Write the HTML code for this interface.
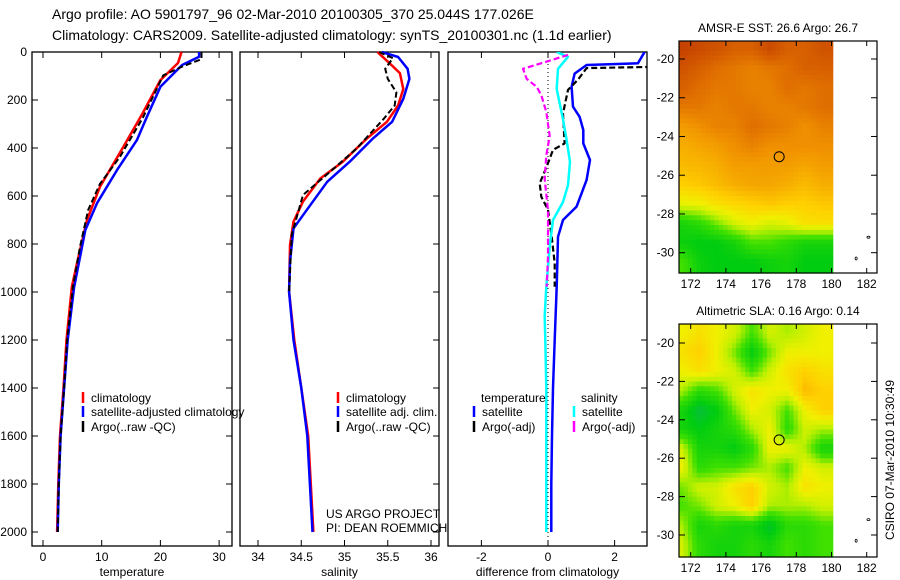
<!DOCTYPE html>
<html><head><meta charset="utf-8">
<style>
html,body{margin:0;padding:0;background:#fff;}
svg{display:block;font-family:"Liberation Sans",sans-serif;}
text{fill:#000;}
</style></head>
<body>
<svg id="c" width="900" height="580" viewBox="0 0 900 580" xmlns="http://www.w3.org/2000/svg">
<text x="52" y="19" font-size="14">Argo profile: AO 5901797_96 02-Mar-2010 20100305_370 25.044S 177.026E</text>
<text x="52" y="40" font-size="14">Climatology: CARS2009. Satellite-adjusted climatology: synTS_20100301.nc (1.1d earlier)</text>
<g id="g"></g>
</svg>
<script>
// ---------- data ----------
const depthTicks=[0,200,400,600,800,1000,1200,1400,1600,1800,2000];
const tempTicks=[0,10,20,30];
const salTicks=[34,34.5,35,35.5,36];
const diffTicks=[-2,0,2];
const latTicks=[-20,-22,-24,-26,-28,-30];
const lonTicks=[172,174,176,178,180,182];

const tClimD=[0,46,117,254,395,562,700,880,980,1200,1400,1600,1800,2000];
const tClimV=[23.6,23,20,17,13.7,9.7,7.5,5.8,4.9,4.0,3.5,2.9,2.6,2.4];
const tSatD=[0,20,54,145,270,367,492,630,742,980,1200,1400,1600,1800,2000];
const tSatV=[26.6,26.6,23.7,20,17.7,16,12.6,9.2,7.2,5.3,4.2,3.6,3.0,2.7,2.5];
const tArgD=[0,30,60,97,274,437,550,658,812,980,1200,1400,1600,1800,2000];
const tArgV=[27,27,23.8,20.5,17,13.1,9.7,7.7,6.3,5.1,4.1,3.6,3.0,2.7,2.5];

const sClimD=[0,40,88,154,223,291,360,457,527,623,707,804,1000,1200,1400,1600,1800,2000];
const sClimV=[35.38,35.5,35.64,35.68,35.62,35.49,35.26,34.98,34.72,34.52,34.41,34.37,34.36,34.42,34.5,34.58,34.61,34.64];
const sSatD=[0,21,70,112,195,291,360,457,541,680,735,874,1000,1200,1400,1600,1800,2000];
const sSatV=[35.43,35.62,35.73,35.75,35.68,35.55,35.33,35.06,34.8,34.52,34.41,34.37,34.36,34.41,34.5,34.57,34.6,34.63];
const sArgD=[0,26,70,112,168,223,280,402,500,596,762,1000];
const sArgV=[35.4,35.56,35.47,35.5,35.6,35.58,35.45,35.14,34.83,34.52,34.39,34.36];

const dTSatD=[0,47,54,90,145,228,270,325,381,450,533,644,700,770,978,1200,1400,1600,1800,2000];
const dTSatV=[2.9,2.7,1.16,0.8,0.71,0.75,0.95,1.06,1.06,1.26,1.16,0.86,0.45,0.3,0.26,0.2,0.15,0.12,0.1,0.1];
const dTArgD=[62,67,115,158,256,381,408,478,547,603,658,770,880,978];
const dTArgV=[3.1,1.16,0.9,0.6,0.45,0.5,0.15,-0.04,-0.25,-0.2,0,0.11,0.2,0.2];
const dSSatD=[0,20,70,154,280,367,457,555,625,700,810,978,1100,1200,1400,1600,1800,2000];
const dSSatV=[0.26,0.6,0.3,0.26,0.45,0.56,0.66,0.6,0.45,0.15,0.05,-0.05,-0.1,-0.08,-0.05,-0.05,-0.05,-0.05];
const dSArgD=[12,40,70,112,145,180,250,350,430,530,660,850,978];
const dSArgV=[0.6,-0.04,-0.75,-0.64,-0.34,-0.2,-0.05,0.05,-0.05,-0.1,0,0,-0.04];

const gridLons=[171.5,172.5,173.5,174.5,175.5,176.5,177.5,178.5,179.5];
const gridLats=[-19.5,-20.5,-21.5,-22.5,-23.5,-24.5,-25.5,-26.5,-27.5,-28.5,-29.5,-30.5];
const sstGrid=[
[.92,.9,.88,.85,.85,.9,.85,.85,.88],
[.88,.85,.82,.8,.78,.8,.82,.85,.85],
[.85,.82,.8,.8,.78,.78,.82,.8,.82],
[.8,.8,.78,.8,.8,.78,.78,.8,.82],
[.72,.75,.78,.78,.82,.8,.78,.75,.78],
[.68,.7,.72,.75,.78,.75,.75,.75,.75],
[.65,.66,.68,.72,.72,.72,.72,.7,.72],
[.6,.62,.65,.68,.7,.7,.68,.65,.68],
[.48,.5,.55,.58,.6,.62,.6,.6,.62],
[.2,.25,.35,.45,.5,.45,.48,.55,.55],
[.18,.15,.15,.2,.3,.3,.25,.2,.2],
[.3,.18,.15,.15,.15,.18,.2,.15,.15]];
const slaGrid=[
[.5,.55,.5,.45,.3,.45,.4,.45,.5],
[.55,.6,.5,.35,.15,.35,.5,.5,.5],
[.5,.55,.5,.45,.3,.45,.55,.6,.55],
[.4,.25,.3,.45,.55,.5,.5,.65,.6],
[.2,.08,.15,.35,.5,.45,.3,.5,.6],
[.2,.15,.2,.25,.4,.5,.25,.45,.4],
[.45,.2,.2,.15,.25,.5,.5,.4,.2],
[.5,.25,.3,.3,.35,.4,.3,.5,.45],
[.35,.45,.45,.55,.6,.45,.4,.55,.5],
[.3,.35,.45,.5,.6,.4,.4,.4,.45],
[.4,.2,.25,.2,.2,.1,.25,.25,.3],
[.45,.25,.2,.2,.25,.2,.3,.25,.3]];
const argoLon=177.026, argoLat=-25.044;

// ---------- helpers ----------
const NS="http://www.w3.org/2000/svg";
const G=document.getElementById('g');
function mk(tag,attrs,parent){const e=document.createElementNS(NS,tag);for(const k in attrs)e.setAttribute(k,attrs[k]);(parent||G).appendChild(e);return e;}
const yD=d=>52+d*0.24;
const PB=546;

function panel(x0,x1,xs,ticks,label,name,leftLabels){
  const r=mk('rect',{x:x0,y:52,width:x1-x0,height:PB-52,fill:'none',stroke:'#000','stroke-width':1.3});
  
  
  ticks.forEach(t=>{const x=xs(t);
    const l1=mk('line',{x1:x,x2:x,y1:52,y2:58,stroke:'#000'});
    
    const l2=mk('line',{x1:x,x2:x,y1:PB,y2:PB-6,stroke:'#000'});
    
    const tx=mk('text',{x:x,y:561,'font-size':12,'text-anchor':'middle'});tx.textContent=t;
    
  });
  depthTicks.forEach(d=>{const y=yD(d);
    const l=mk('line',{x1:x1,x2:x1-6,y1:y,y2:y,stroke:'#000'});
    
    if(leftLabels){
      const l3=mk('line',{x1:x0,x2:x0+6,y1:y,y2:y,stroke:'#000'});
      
      const tx=mk('text',{x:x0-5,y:y+4,'font-size':12,'text-anchor':'end'});tx.textContent=d;
      
    }
  });
  const lb=mk('text',{x:(x0+x1)/2,y:576,'font-size':12,'text-anchor':'middle'});lb.textContent=label;
  
}
function series(ds,vs,xs,color,w,dash,name,clip){
  const pts=ds.map((d,i)=>xs(vs[i]).toFixed(1)+','+yD(d).toFixed(1)).join(' ');
  const a={points:pts,fill:'none',stroke:color,'stroke-width':w,'stroke-linejoin':'round'};
  if(dash)a['stroke-dasharray']=dash;
  if(clip)a['clip-path']='url(#'+clip+')';
  const p=mk('polyline',a);
  
  
}
function legend(x,y,color,label,name){
  const l=mk('line',{x1:x,x2:x,y1:y-10,y2:y+1,stroke:color,'stroke-width':2.5});
  
  const t=mk('text',{x:x+8,y:y,'font-size':12});t.textContent=label;
  
}
const defs=mk('defs',{});
const cp=mk('clipPath',{id:'p3clip'},defs);mk('rect',{x:448,y:52,width:199,height:494},cp);

// ---------- temperature panel ----------
const xT=v=>43+v*5.87;
panel(32,232,xT,tempTicks,'temperature','temperature-panel',true);
series(tClimD,tClimV,xT,'#f00',2.5,null,'temperature-climatology-line');
series(tSatD,tSatV,xT,'#00f',2.5,null,'temperature-satellite-line');
series(tArgD,tArgV,xT,'#000',2,'6,3','temperature-argo-line');
legend(83,402,'#f00','climatology','legend-climatology');
legend(83,416,'#00f','satellite-adjusted climatology','legend-satellite-adjusted');
legend(83,431,'#000','Argo(..raw -QC)','legend-argo-raw');

// ---------- salinity panel ----------
const xS=v=>258+(v-34)*86.5;
panel(240,439,xS,salTicks,'salinity','salinity-panel',false);
series(sClimD,sClimV,xS,'#f00',2.5,null,'salinity-climatology-line');
series(sSatD,sSatV,xS,'#00f',2.5,null,'salinity-satellite-line');
series(sArgD,sArgV,xS,'#000',2,'6,3','salinity-argo-line');
legend(338,402,'#f00','climatology','legend-sal-climatology');
legend(338,416,'#00f','satellite adj. clim.','legend-sal-satellite');
legend(338,431,'#000','Argo(..raw -QC)','legend-sal-argo');
let t1=mk('text',{x:326,y:518,'font-size':12});t1.textContent='US ARGO PROJECT';

let t2=mk('text',{x:326,y:532,'font-size':12});t2.textContent='PI: DEAN ROEMMICH';


// ---------- difference panel ----------
const xDf=v=>548+v*33.3;
panel(448,647,xDf,diffTicks,'difference from climatology','difference-panel',false);
const zl=mk('line',{x1:548,x2:548,y1:52,y2:PB,stroke:'#000','stroke-dasharray':'1,3'});

series(dTSatD,dTSatV,xDf,'#00f',2.5,null,'diff-temperature-satellite-line','p3clip');
series(dTArgD,dTArgV,xDf,'#000',2.2,'6,3','diff-temperature-argo-line','p3clip');
series(dSSatD,dSSatV,xDf,'#0ff',2.5,null,'diff-salinity-satellite-line','p3clip');
series(dSArgD,dSArgV,xDf,'#f0f',2.2,'6,3','diff-salinity-argo-line','p3clip');
let lt=mk('text',{x:481,y:402,'font-size':12});lt.textContent='temperature';

let ls=mk('text',{x:581,y:402,'font-size':12});ls.textContent='salinity';

legend(474,416,'#00f','satellite','legend-diff-temp-satellite');
legend(474,431,'#000','Argo(-adj)','legend-diff-temp-argo');
legend(574,416,'#0ff','satellite','legend-diff-sal-satellite');
legend(574,431,'#f0f','Argo(-adj)','legend-diff-sal-argo');

// ---------- maps ----------
const stops=[[0,[16,176,112]],[0.15,[0,204,16]],[0.3,[64,224,0]],[0.42,[192,240,0]],[0.5,[240,240,0]],[0.6,[255,208,0]],[0.75,[240,144,0]],[0.85,[216,96,0]],[1,[176,32,0]]];
function cmap(v){v=Math.max(0,Math.min(1,v));for(let i=1;i<stops.length;i++){if(v<=stops[i][0]){const a=stops[i-1],b=stops[i],f=(v-a[0])/(b[0]-a[0]);return 'rgb('+a[1].map((c,k)=>Math.round(c+(b[1][k]-c)*f)).join(',')+')';}}return 'rgb(176,32,0)';}
function sample(grid,lon,lat){
  let fx=(lon-gridLons[0]);fx=Math.max(0,Math.min(gridLons.length-1.001,fx));
  let fy=(gridLats[0]-lat);fy=Math.max(0,Math.min(gridLats.length-1.001,fy));
  const i=Math.floor(fx),j=Math.floor(fy),ax=fx-i,ay=fy-j;
  return grid[j][i]*(1-ax)*(1-ay)+grid[j][i+1]*ax*(1-ay)+grid[j+1][i]*(1-ax)*ay+grid[j+1][i+1]*ax*ay;
}
function map(top,bot,lat20,lat30,grid,title,name){
  const xL=lon=>690.7+(lon-172)*17.6;
  const yL=lat=>lat20+(-20-lat)*(lat30-lat20)/10;
  const latTop=-20+(lat20-top)*10/(lat30-lat20), latBot=-20-(bot-lat20)*10/(lat30-lat20);
  const g=mk('g',{});
  const step=0.25;
  for(let lat=latTop;lat>latBot-1e-6;lat-=step){
    for(let lon=171.34;lon<180.07;lon+=step){
      const x=xL(lon),y=yL(lat),w=Math.min(xL(lon+step),xL(180.07))-x,h=Math.min(yL(lat-step),bot)-y;
      const c=mk('rect',{x:x.toFixed(1),y:y.toFixed(1),width:(w+0.6).toFixed(1),height:(h+0.6).toFixed(1),fill:cmap(sample(grid,lon+step/2,lat-step/2))},g);
      
      
    }
  }
  const fr=mk('rect',{x:679,y:top,width:198,height:bot-top,fill:'none',stroke:'#000','stroke-width':1.2});
  
  latTicks.forEach(la=>{const y=yL(la);
    const a=mk('line',{x1:679,x2:685,y1:y,y2:y,stroke:'#000'});
    const b=mk('line',{x1:877,x2:871,y1:y,y2:y,stroke:'#000'});
    const t=mk('text',{x:674,y:y+4,'font-size':12,'text-anchor':'end'});t.textContent=la;
    
  });
  lonTicks.forEach(lo=>{const x=xL(lo);
    const a=mk('line',{x1:x,x2:x,y1:top,y2:top+5,stroke:'#000'});
    const b=mk('line',{x1:x,x2:x,y1:bot,y2:bot-5,stroke:'#000'});
    const t=mk('text',{x:x,y:bot+15,'font-size':12,'text-anchor':'middle'});t.textContent=lo;
    
  });
  const tt=mk('text',{x:778,y:top-9,'font-size':12,'text-anchor':'middle'});tt.textContent=title;
  
  const ci=mk('circle',{cx:xL(argoLon),cy:yL(argoLat),r:5,fill:'none',stroke:'#000','stroke-width':1});
  
  const i1=mk('ellipse',{cx:xL(182.1),cy:yL(-29.2),rx:1.5,ry:1,fill:'none',stroke:'#000','stroke-width':0.8});
  
  const i2=mk('ellipse',{cx:xL(181.4),cy:yL(-30.3),rx:1,ry:1.5,fill:'none',stroke:'#000','stroke-width':0.8});
  
}
map(41,273,59,252.7,sstGrid,'AMSR-E SST: 26.6 Argo: 26.7','sst-map');
map(324,557,343,535,slaGrid,'Altimetric SLA: 0.16 Argo: 0.14','sla-map');
const cr=mk('text',{x:0,y:0,'font-size':12,'text-anchor':'middle',transform:'translate(894,460) rotate(-90)'});
cr.textContent='CSIRO 07-Mar-2010 10:30:49';

</script>
</body></html>
